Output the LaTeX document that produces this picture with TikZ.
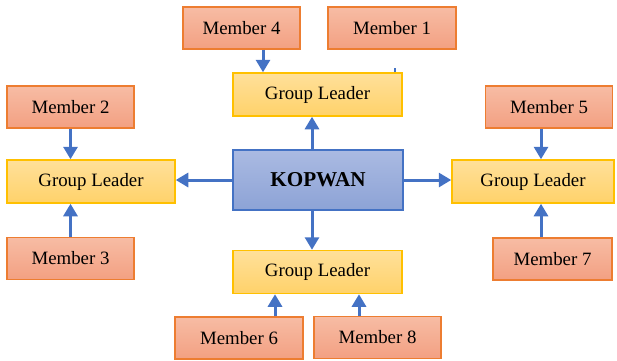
\documentclass[tikz,border=0pt]{standalone}
\usepackage{fontspec}
\setmainfont{Liberation Serif}
\usetikzlibrary{arrows.meta}
\definecolor{memberline}{HTML}{ED7D31}
\definecolor{membertop}{HTML}{F7BCA4}
\definecolor{memberbot}{HTML}{F3A082}
\definecolor{leaderline}{HTML}{FFC000}
\definecolor{leadertop}{HTML}{FFE09A}
\definecolor{leaderbot}{HTML}{FFD26A}
\definecolor{kopline}{HTML}{4472C4}
\definecolor{koptop}{HTML}{AABAE2}
\definecolor{kopbot}{HTML}{8DA3D6}
\definecolor{arrowblue}{HTML}{4472C4}
\begin{document}
\begin{tikzpicture}[x=0.6pt,y=-0.6pt,
  member/.style={rectangle, draw=memberline, line width=0.9pt, top color=membertop, bottom color=memberbot, minimum width=76.2pt, minimum height=25.2pt, inner sep=0pt, font=\fontsize{11.3}{13}\selectfont},
  leader/.style={rectangle, draw=leaderline, line width=0.9pt, top color=leadertop, bottom color=leaderbot, minimum width=101.4pt, minimum height=25.8pt, inner sep=0pt, font=\fontsize{11.3}{13}\selectfont},
  arr/.style={draw=arrowblue, line width=1.8pt, -{Triangle[width=8.4pt,length=7.5pt]}}]
\useasboundingbox (0,0) rectangle (617,360);
% centre
\node [rectangle, draw=kopline, line width=0.9pt, top color=koptop, bottom color=kopbot, minimum width=102pt, minimum height=36pt, inner sep=0pt, font=\fontsize{12.7}{14}\selectfont\bfseries] (k) at (318,180) {KOPWAN};
% leaders
\node [leader] (tgl) at (317.5,94.5) {Group Leader};
\node [leader, minimum width=100.8pt] (lgl) at (91,181.5) {Group Leader};
\node [leader, minimum width=97.2pt] (rgl) at (533,181.5) {Group Leader};
\node [leader] (bgl) at (317.5,272) {Group Leader};
% members
\node [member, minimum width=70.2pt] (m4) at (241.5,28) {Member 4};
\node [member, minimum width=76.8pt] (m1) at (392,28) {Member 1};
\node [member] (m2) at (70.5,107) {Member 2};
\node [member] (m3) at (70.5,258.5) {Member 3};
\node [member] (m5) at (549,107) {Member 5};
\node [member, minimum width=71.4pt] (m7) at (552.5,259) {Member 7};
\node [member, minimum width=76.8pt] (m6) at (239,338) {Member 6};
\node [member] (m8) at (377.5,337.5) {Member 8};
% arrows from the centre
\draw [arr] ([xshift=-3.6pt]k.north) -- ([xshift=-3.6pt]k.north |- tgl.south);
\draw [arr] ([xshift=-3.6pt]k.south) -- ([xshift=-3.6pt]k.south |- bgl.north);
\draw [arr] (k.west) -- (k.west -| lgl.east);
\draw [arr] (k.east) -- (k.east -| rgl.west);
% arrows from members
\draw [arr] ([xshift=12.9pt]m4.south) -- ([xshift=12.9pt]m4.south |- tgl.north);
\draw [draw=arrowblue, line width=1.2pt] ([xshift=46.5pt]tgl.north) -- ([xshift=46.5pt,yshift=2.4pt]tgl.north);
\draw [arr] (m2.south) -- (m2.south |- lgl.north);
\draw [arr] (m3.north) -- (m3.north |- lgl.south);
\draw [arr] ([xshift=-4.8pt]m5.south) -- ([xshift=-4.8pt]m5.south |- rgl.north);
\draw [arr] ([xshift=-6.9pt]m7.north) -- ([xshift=-6.9pt]m7.north |- rgl.south);
\draw [arr] ([xshift=21.6pt]m6.north) -- ([xshift=21.6pt]m6.north |- bgl.south);
\draw [arr] ([xshift=-11.1pt]m8.north) -- ([xshift=-11.1pt]m8.north |- bgl.south);
\end{tikzpicture}
\end{document}
